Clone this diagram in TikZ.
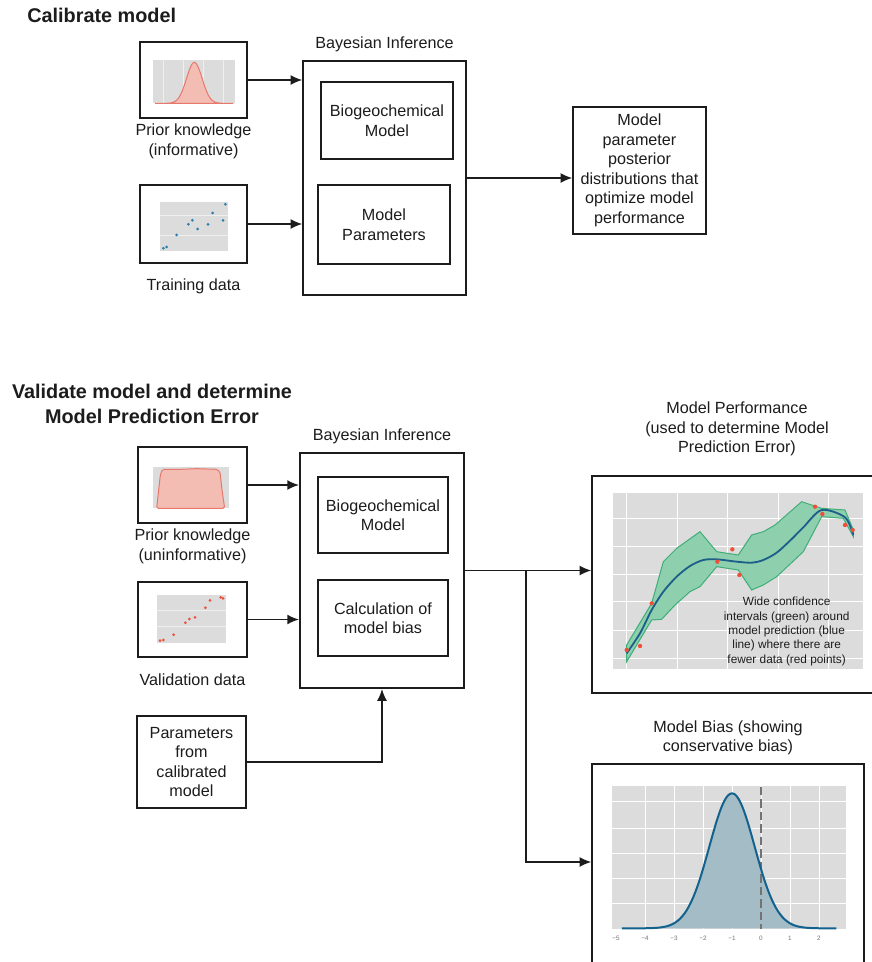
\documentclass[tikz,border=0pt]{standalone}
\usepackage{fontspec}
\setmainfont{Liberation Sans}
\usetikzlibrary{arrows.meta,positioning}

\newdimen\px \px=0.6pt

\definecolor{ink}{HTML}{1C1C1C}
\definecolor{plotgray}{HTML}{DCDCDC}
\definecolor{bandfill}{HTML}{8ECFAE}
\definecolor{bandline}{HTML}{3FAE78}
\definecolor{predblue}{HTML}{1D5F8A}
\definecolor{ptred}{HTML}{F04E37}
\definecolor{biasfill}{HTML}{A4BCC6}
\definecolor{biasblue}{HTML}{13628D}
\definecolor{priorfill}{HTML}{F3BDB4}
\definecolor{priorline}{HTML}{E8786B}
\definecolor{trainblue}{HTML}{2B7FAE}

\tikzset{
  box/.style={draw=ink, line width=0.9pt, align=center, inner sep=0pt, text=ink,
              font=\fontsize{9.7}{11.7}\selectfont},
  lbl/.style={align=center, inner sep=0pt, text=ink, font=\fontsize{9.7}{11.7}\selectfont},
  ttl/.style={align=center, inner sep=0pt, text=ink, font=\bfseries\fontsize{11.9}{15}\selectfont},
  note/.style={align=center, inner sep=0pt, text=ink, font=\fontsize{7.1}{8.6}\selectfont},
  tick/.style={inner sep=0pt, text=black!55, font=\fontsize{3.8}{4}\selectfont},
  arr/.style={-{Latex[length=7pt,width=6pt]}, line width=0.9pt, draw=ink},
  gridln/.style={white, line width=0.5pt},
  faintln/.style={plotgray!45!white, line width=0.25pt},
  dot/.style={fill=ptred},
}

\begin{document}
\begin{tikzpicture}[x=0.6pt, y=-0.6pt]
\useasboundingbox (0,0) rectangle (872,962);

\node[ttl, anchor=west] (t1) at (27,15) {Calibrate model};
\node[ttl] (t2) at (152,404) {Validate model and determine\\Model Prediction Error};

% calibrate
\node[box, minimum width=107*\px, minimum height=76*\px] (prior1) at (193.5,80) {};
\node[lbl, below=5*\px of prior1] (prior1lbl) {Prior knowledge\\(informative)};
\node[box, minimum width=107*\px, minimum height=78*\px] (train) at (193.5,224) {};
\node[lbl, below=15*\px of train] (trainlbl) {Training data};
\node[box, minimum width=163*\px, minimum height=234*\px] (bayes1) at (384.5,178) {};
\node[lbl, above=8*\px of bayes1] (bayes1lbl) {Bayesian Inference};
\node[box, minimum width=132*\px, minimum height=77*\px] (bio1) at (387,120.5) {Biogeochemical\\Model};
\node[box, minimum width=132*\px, minimum height=79*\px] (par1) at (384,224.5) {Model\\Parameters};
\node[box, minimum width=133*\px, minimum height=127*\px] (post) at (639.5,170.5)
  {Model\\parameter\\posterior\\distributions that\\optimize model\\performance};

\draw[arr] (prior1.east) -- (prior1.east -| bayes1.west);
\draw[arr] (train.east) -- (train.east -| bayes1.west);
\draw[arr] (bayes1.east) -- (bayes1.east -| post.west);

% validate
\node[box, minimum width=109*\px, minimum height=76*\px] (prior2) at (192.5,485) {};
\node[lbl, below=5*\px of prior2] (prior2lbl) {Prior knowledge\\(uninformative)};
\node[box, minimum width=109*\px, minimum height=75*\px] (valid) at (192.5,619.5) {};
\node[lbl, below=16*\px of valid] (validlbl) {Validation data};
\node[box, line width=1.3pt, minimum width=164*\px, minimum height=235*\px] (bayes2) at (382,570.5) {};
\node[lbl, above=8*\px of bayes2] (bayes2lbl) {Bayesian Inference};
\node[box, minimum width=130*\px, minimum height=76*\px] (bio2) at (383,515) {Biogeochemical\\Model};
\node[box, minimum width=130*\px, minimum height=76*\px] (biascalc) at (383,618) {Calculation of\\model bias};
\node[box, minimum width=109*\px, minimum height=92*\px] (calib) at (191.5,762) {Parameters\\from\\calibrated\\model};
\node[box, minimum width=290*\px, minimum height=217*\px] (perf) at (737,584.5) {};
\node[lbl, above=19*\px of perf] (perflbl) {Model Performance\\(used to determine Model\\Prediction Error)};
\node[box, minimum width=272*\px, minimum height=211*\px] (biasbox) at (728,869.5) {};
\node[lbl, above=8*\px of biasbox] (biaslbl) {Model Bias (showing\\conservative bias)};
\coordinate (split) at (526,570.5);

\draw[arr] (prior2.east) -- (prior2.east -| bayes2.west);
\draw[arr] (valid.east) -- (valid.east -| bayes2.west);
\draw[arr] (calib.east) -| (bayes2.south);
\draw[arr] (bayes2.east) -- (bayes2.east -| perf.west);
\draw[arr] (split) |- ([yshift=4.5pt]biasbox.west);

% thumbnails
\begin{scope}[shift={(130,35)}, x=0.2pt, y=-0.2pt]
  \fill[plotgray] (70,75) rectangle (315,205);
  \foreach \gx in {100,160,220,280} \draw[faintln] (\gx,75) -- (\gx,205);
  \filldraw[fill=priorfill, draw=priorline, line width=0.6pt]
    plot[domain=75:310, samples=70] (\x,{205-123*exp(-((\x-193)^2)/1100)}) -- cycle;
\end{scope}
\begin{scope}[shift={(130,35)}, x=0.2pt, y=-0.2pt]
  \fill[plotgray] (90,500) rectangle (295,648);
  \foreach \gy in {540,600} \draw[faintln] (90,\gy) -- (295,\gy);
  \foreach \p in {(100,640),(110,636),(140,600),(175,568),(187,556),(203,582),(234,568),(248,534),(279,556),(286,508)}
    \fill[trainblue] \p circle (0.9pt);
\end{scope}
\begin{scope}[shift={(130,440)}, x=0.2pt, y=-0.2pt]
  \fill[plotgray] (68,80) rectangle (298,205);
  \filldraw[fill=priorfill, draw=priorline, line width=0.6pt, rounded corners=1pt]
    (80,205) -- (86,150) -- (91,105) -- (97,88) -- (150,88) -- (200,86) -- (262,88) -- (270,96)
    -- (276,150) -- (284,205) -- cycle;
\end{scope}
\begin{scope}[shift={(130,440)}, x=0.2pt, y=-0.2pt]
  \fill[plotgray] (80,465) rectangle (288,610);
  \foreach \gy in {510,560} \draw[faintln] (80,\gy) -- (288,\gy);
  \foreach \p in {(90,602),(100,600),(131,584),(166,548),(178,537),(195,532),(226,503),(240,481),(272,472),(279,475)}
    \fill[ptred] \p circle (0.9pt);
\end{scope}

% model performance
\begin{scope}[shift={(590,470)}, x=0.2pt, y=-0.2pt]
  \fill[plotgray] (68,70) rectangle (819,597);
  \foreach \gx in {110,262,412,565,715} \draw[gridln] (\gx,70) -- (\gx,597);
  \foreach \gy in {145,230,312,395,480,565} \draw[gridln] (68,\gy) -- (819,\gy);
  \filldraw[fill=bandfill, draw=bandline, line width=0.6pt]
    (110,525) -- (185,400) -- (220,275) -- (260,235) -- (330,185) -- (380,245) -- (445,255)
    -- (485,195) -- (520,185) -- (555,165) -- (635,95) -- (695,115) -- (765,120) -- (790,180)
    -- (790,200) -- (760,145) -- (695,140) -- (640,245) -- (560,320) -- (520,345) -- (485,360)
    -- (445,300) -- (380,290) -- (330,350) -- (300,365) -- (255,405) -- (215,448) -- (185,450)
    -- (110,575) -- cycle;
  \draw[predblue, line width=1.1pt] plot[smooth, tension=0.5] coordinates
    {(110,550) (150,490) (185,420) (220,365) (260,320) (300,288) (340,270) (380,268) (440,275)
     (485,278) (520,270) (560,248) (600,212) (640,172) (695,120) (765,142) (790,195)};
  \foreach \p in {(110,540),(150,528),(185,400),(382,275),(427,238),(448,315),(675,110),(697,132),(765,165),(788,180)}
    \fill[dot] \p circle (1.3pt);
  \node[note] (wide) at (590,484) {Wide confidence\\intervals (green) around\\model prediction (blue\\line) where there are\\fewer data (red points)};
\end{scope}

% model bias
\begin{scope}[shift={(590,760)}, x=0.2pt, y=-0.2pt]
  \fill[plotgray] (65,78) rectangle (768,508);
  \foreach \u in {-4,...,2} \draw[gridln] ({513+87*\u},78) -- ({513+87*\u},508);
  \foreach \gy in {125,205,280,355,430} \draw[gridln] (65,\gy) -- (768,\gy);
  \fill[biasfill] plot[domain=-4.8:2.6, samples=100] ({513+87*\x},{505-405*exp(-((\x+1)^2)/1.2168)}) -- cycle;
  \draw[black!55, line width=1.3pt, dash pattern=on 5pt off 2.5pt] (513,80) -- (513,508);
  \draw[biasblue, line width=1.2pt] plot[domain=-4.8:2.6, samples=100] ({513+87*\x},{505-405*exp(-((\x+1)^2)/1.2168)});
  \foreach \u/\t in {-5/−5,-4/−4,-3/−3,-2/−2,-1/−1,0/0,1/1,2/2}
    \node[tick] at ({513+87*\u},535) {\t};
\end{scope}
\end{tikzpicture}
\end{document}
